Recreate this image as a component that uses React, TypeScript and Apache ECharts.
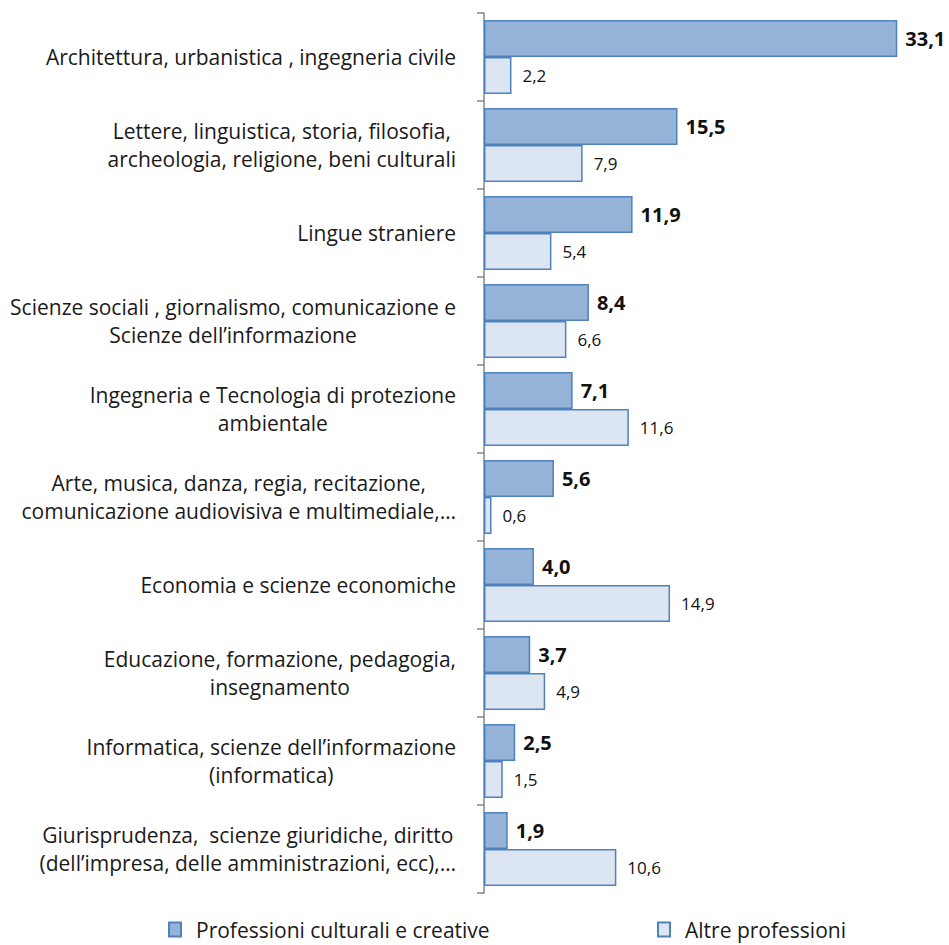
import React, { useEffect, useRef } from "react";
import * as echarts from "echarts";

const categories = [
  "Architettura, urbanistica , ingegneria civile",
  "Lettere, linguistica, storia, filosofia,\narcheologia, religione, beni culturali",
  "Lingue straniere",
  "Scienze sociali , giornalismo, comunicazione e\nScienze dell’informazione",
  "Ingegneria e Tecnologia di protezione\nambientale",
  "Arte, musica, danza, regia, recitazione,\ncomunicazione audiovisiva e multimediale,…",
  "Economia e scienze economiche",
  "Educazione, formazione, pedagogia,\ninsegnamento",
  "Informatica, scienze dell’informazione\n(informatica)",
  "Giurisprudenza,  scienze giuridiche, diritto\n(dell’impresa, delle amministrazioni, ecc),…",
];

const culturali = [33.1, 15.5, 11.9, 8.4, 7.1, 5.6, 4.0, 3.7, 2.5, 1.9];
const altre = [2.2, 7.9, 5.4, 6.6, 11.6, 0.6, 14.9, 4.9, 1.5, 10.6];

const seriesNames = ["Professioni culturali e creative", "Altre professioni"];

const FONT = "Open Sans";

export default function App() {
  const ref = useRef<HTMLDivElement>(null);
  useEffect(() => {
    document.body.style.margin = "0";
    const chart = echarts.init(ref.current!, null, { renderer: "svg" });
    const fmt = (p: any) => String(p.value.toFixed(1)).replace(".", ",");
    const legendText = { fontFamily: FONT, fontSize: 21, color: "#1a1a1a", padding: [0, 0, 0, 10] };
    chart.setOption({
      animation: false,
      backgroundColor: "#fff",
      textStyle: { fontFamily: FONT },
      grid: { left: 484, right: 28, top: 13, bottom: 52, containLabel: false },
      legend: [
        {
          data: [seriesNames[0]],
          left: 163,
          top: 914,
          itemWidth: 12,
          itemHeight: 14,
          icon: "rect",
          textStyle: legendText,
        },
        {
          data: [seriesNames[1]],
          left: 652,
          top: 914,
          itemWidth: 12,
          itemHeight: 14,
          icon: "rect",
          textStyle: legendText,
        },
      ],
      xAxis: {
        type: "value",
        min: 0,
        max: 35,
        show: false,
        splitLine: { show: false },
      },
      yAxis: {
        type: "category",
        inverse: true,
        data: categories,
        axisLine: { show: true, lineStyle: { color: "#868686", width: 1.5 } },
        axisTick: { show: true, length: 7, lineStyle: { color: "#868686", width: 1.5 } },
        axisLabel: {
          margin: 28,
          fontFamily: FONT,
          fontSize: 21,
          color: "#1a1a1a",
          lineHeight: 28,
          formatter: (v: string) =>
            v
              .split("\n")
              .map((l) => "{c|" + l + "}")
              .join("\n"),
          rich: { c: { align: "center", fontFamily: FONT, fontSize: 21, color: "#1a1a1a", lineHeight: 28 } },
        },
      },
      series: [
        {
          name: seriesNames[0],
          type: "bar",
          data: culturali,
          barGap: "0%",
          barCategoryGap: "16%",
          itemStyle: { color: "#95B3D7", borderColor: "#4F81BD", borderWidth: 1.5 },
          label: {
            show: true,
            position: "right",
            distance: 8,
            formatter: fmt,
            fontFamily: FONT,
            fontSize: 20,
            fontWeight: "bold",
            color: "#111",
          },
        },
        {
          name: seriesNames[1],
          type: "bar",
          data: altre,
          barGap: "0%",
          barCategoryGap: "16%",
          itemStyle: { color: "#DCE6F2", borderColor: "#4F81BD", borderWidth: 1.5 },
          label: {
            show: true,
            position: "right",
            distance: 11,
            formatter: fmt,
            fontFamily: FONT,
            fontSize: 17,
            color: "#111",
          },
        },
      ],
    });
    return () => chart.dispose();
  }, []);
  return <div ref={ref} style={{ width: 949, height: 945 }} />;
}
